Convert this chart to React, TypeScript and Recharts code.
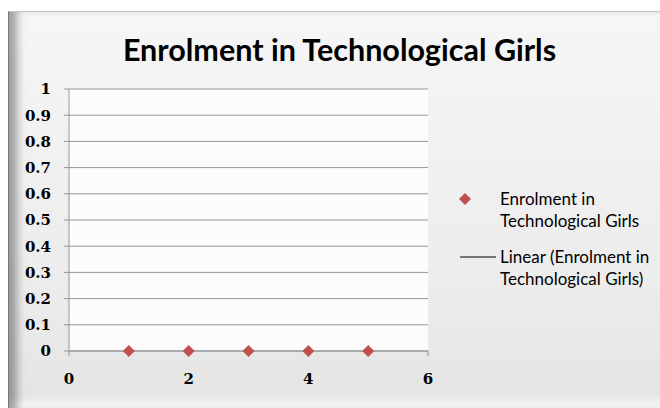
import { ScatterChart, Scatter, XAxis, YAxis, CartesianGrid } from 'recharts';

const chartTitle = 'Enrolment in Technological Girls';
const legendLines = ['Enrolment in', 'Technological Girls'];
const trendLines = ['Linear (Enrolment in', 'Technological Girls)'];

// x positions (1..5) and values, all at zero
const xValues = [1, 2, 3, 4, 5];
const yValues = [0, 0, 0, 0, 0];
const yTicks = [0, 0.1, 0.2, 0.3, 0.4, 0.5, 0.6, 0.7, 0.8, 0.9, 1];
const xTicks = [0, 2, 4, 6];

const points = xValues.map((x, i) => ({ x, y: yValues[i] }));

const RED = '#C0504D';
const GRID = '#959595';
const tickFont = { fill: '#000', fontFamily: '"DejaVu Serif", serif', fontWeight: 700, fontSize: 15 };

const Diamond = (props: any) => {
  const { cx, cy } = props;
  const r = 6;
  return (
    <polygon
      points={`${cx},${cy - r} ${cx + r},${cy} ${cx},${cy + r} ${cx - r},${cy}`}
      fill={RED}
    />
  );
};

const App = () => {
  return (
    <div
      style={{
        position: 'absolute',
        left: 8,
        top: 11,
        width: 652,
        height: 397,
        boxSizing: 'border-box',
        borderTop: '1px solid #c8c8c8',
        borderLeft: '1px solid #777',
        background: 'linear-gradient(180deg, #f6f6f6 0%, #ececec 70%, #e4e4e4 100%)',
        boxShadow: 'inset 12px 0 8px -4px rgba(0,0,0,0.35), inset 0 -14px 10px -8px rgba(255,255,255,0.9)',
        overflow: 'hidden',
      }}
    >
      <div
        style={{
          position: 'absolute',
          left: 0,
          width: 661,
          top: 19,
          textAlign: 'center',
          fontFamily: 'Lato, "Open Sans", sans-serif',
          fontWeight: 700,
          fontSize: 30.5,
          color: '#000',
        }}
      >
        {chartTitle}
      </div>
      <div style={{ position: 'absolute', left: 0, top: 0 }}>
        <ScatterChart width={652} height={397} margin={{ top: 77, right: 233, bottom: 28, left: 10 }}>
          <CartesianGrid vertical={false} stroke={GRID} fill="#fcfcfc" />
          <XAxis
            type="number"
            dataKey="x"
            domain={[0, 6]}
            ticks={xTicks}
            height={30}
            axisLine={{ stroke: GRID }}
            tickLine={{ stroke: GRID }}
            tickSize={5}
            tickMargin={17}
            tick={tickFont}
          />
          <YAxis
            type="number"
            dataKey="y"
            domain={[0, 1]}
            ticks={yTicks}
            width={50}
            axisLine={{ stroke: GRID }}
            tickLine={{ stroke: GRID }}
            tickSize={5}
            tickMargin={13}
            tick={tickFont}
          />
          <Scatter name={legendLines.join(' ')} data={points} shape={<Diamond />} isAnimationActive={false} />
        </ScatterChart>
      </div>
      <div
        style={{
          position: 'absolute',
          left: 443,
          top: 176,
          fontFamily: 'Lato, "Open Sans", sans-serif',
          fontSize: 17,
          lineHeight: '22px',
          color: '#000',
        }}
      >
        <div style={{ display: 'flex', alignItems: 'flex-start' }}>
          <svg width={48} height={22}>
            <polygon points="13,5 19,11 13,17 7,11" fill={RED} />
          </svg>
          <div style={{ width: 170 }}>
            {legendLines.map((t) => <div key={t}>{t}</div>)}
          </div>
        </div>
        <div style={{ display: 'flex', alignItems: 'flex-start', marginTop: 14 }}>
          <svg width={48} height={22}>
            <line x1={8} x2={44} y1={11} y2={11} stroke="#000" strokeWidth={1} />
          </svg>
          <div style={{ width: 170 }}>
            {trendLines.map((t) => <div key={t}>{t}</div>)}
          </div>
        </div>
      </div>
    </div>
  );
};

export default App;
